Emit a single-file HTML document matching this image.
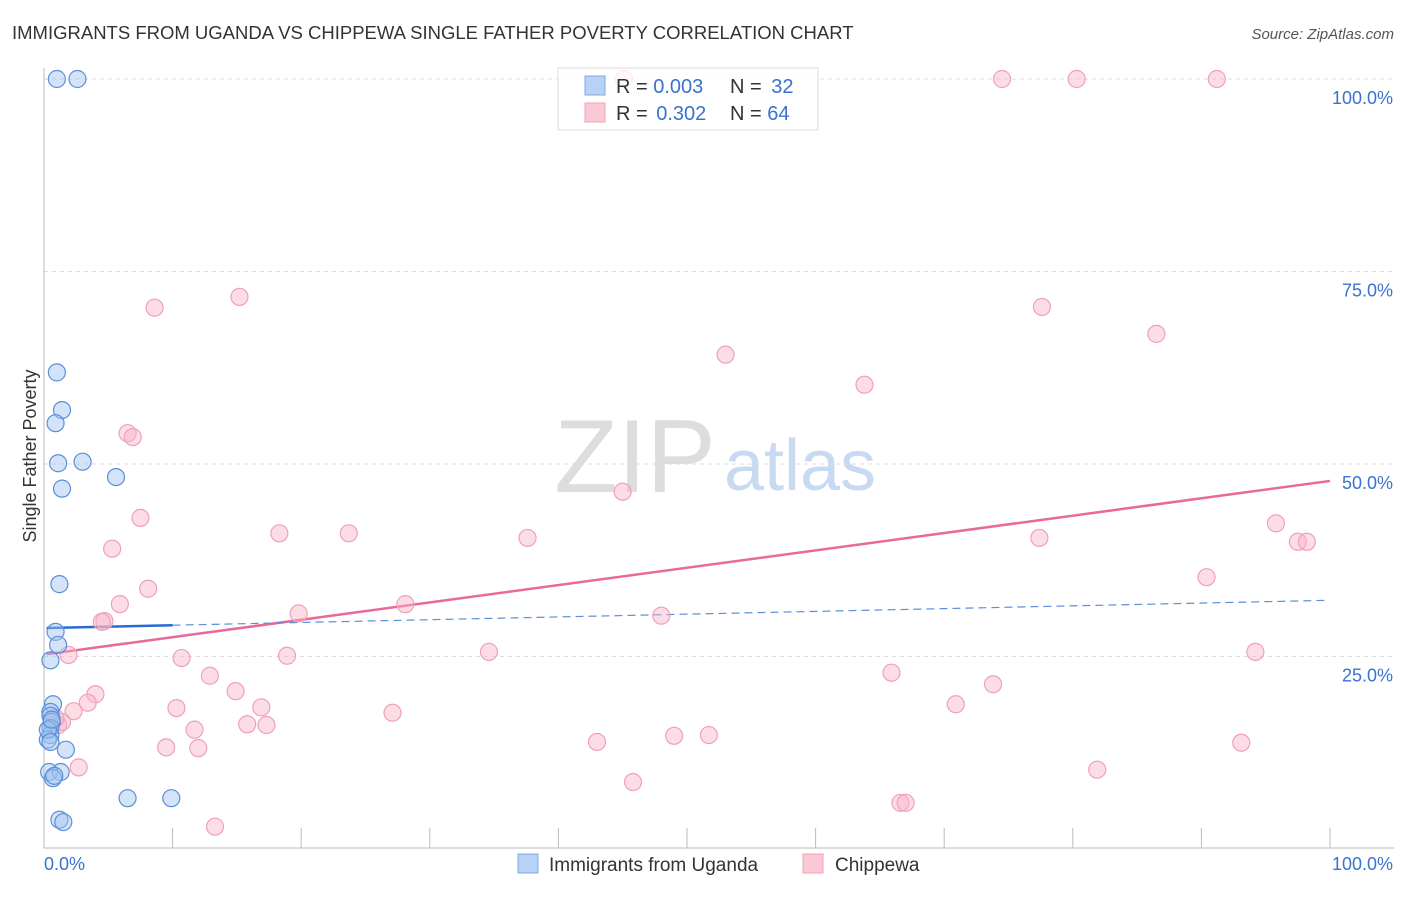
<!DOCTYPE html>
<html><head><meta charset="utf-8"><style>
body{margin:0;background:#fff;font-family:"Liberation Sans",sans-serif;}
svg text{font-family:"Liberation Sans",sans-serif;}
</style></head><body>
<svg id="chart" width="1406" height="892" xmlns="http://www.w3.org/2000/svg">
<text x="12" y="39" font-size="18.5" fill="#333">IMMIGRANTS FROM UGANDA VS CHIPPEWA SINGLE FATHER POVERTY CORRELATION CHART</text>
<text x="1394" y="39" font-size="15" fill="#555" font-style="italic" text-anchor="end">Source: ZipAtlas.com</text>
<text x="36" y="456" font-size="18" fill="#333" text-anchor="middle" transform="rotate(-90 36 456)">Single Father Poverty</text>
<g><text x="635" y="492" font-size="104" fill="#ddd" font-family="Liberation Serif" text-anchor="middle">ZIP</text><text x="800" y="490" font-size="72" fill="#c8daf2" text-anchor="middle">atlas</text></g>
<g id="grid"></g><g id="axes"></g><g id="trend"></g><g id="pts"></g>
<g>
<rect x="558" y="68" width="260" height="62" fill="rgba(255,255,255,0.8)" stroke="#ddd"/>
<rect x="585" y="76" width="20" height="19" fill="#b8d2f5" stroke="#7fa8e0"/>
<rect x="585" y="103" width="20" height="19" fill="#fbc8d6" stroke="#f0a0b8"/>
<text x="616" y="93" font-size="20" fill="#333">R = <tspan fill="#3a72d0">0.003</tspan></text>
<text x="730" y="93" font-size="20" fill="#333">N = <tspan fill="#3a72d0" dx="4">32</tspan></text>
<text x="616" y="120" font-size="20" fill="#333">R = <tspan fill="#3a72d0" dx="3">0.302</tspan></text>
<text x="730" y="120" font-size="20" fill="#333">N = <tspan fill="#3a72d0">64</tspan></text>
</g>
<g>
<rect x="518" y="854" width="20" height="19" fill="#b8d2f5" stroke="#7fa8e0"/>
<text x="549" y="871" font-size="19" fill="#333">Immigrants from Uganda</text>
<rect x="803" y="854" width="20" height="19" fill="#fbc8d6" stroke="#f0a0b8"/>
<text x="835" y="871" font-size="19" fill="#333">Chippewa</text>
</g>
</svg>
<script>
const blueX=[1.0,2.6,1.0,1.4,0.9,1.1,3.0,1.4,5.6,1.2,0.9,1.1,0.5,0.7,0.5,0.5,0.6,0.5,0.5,0.3,1.7,0.4,1.3,0.7,0.8,6.5,9.9,1.2,1.5,0.3,0.6,0.5];
const blueY=[100,100,61.9,57.0,55.3,50.1,50.3,46.8,48.3,34.4,28.2,26.5,24.5,18.8,17.8,17.3,16.5,15.7,14.8,14.2,12.9,10.0,10.0,9.2,9.5,6.6,6.6,3.8,3.5,15.5,16.8,13.9];
const pinkX=[45.1,74.5,80.3,91.2,8.6,15.2,77.6,86.5,53.0,63.8,6.5,6.9,45.0,7.5,5.3,18.3,23.7,37.6,77.4,95.8,97.5,98.2,8.1,5.9,90.4,28.1,19.8,4.7,4.5,48.0,1.9,10.7,18.9,34.6,94.2,12.9,65.9,14.9,73.8,4.0,3.4,10.3,2.3,16.9,70.9,27.1,15.8,17.3,11.7,1.1,1.4,9.5,12.0,43.0,49.0,51.7,93.1,2.7,81.9,45.8,66.6,67.0,13.3,0.9];
const pinkY=[100,100,100,100,70.3,71.7,70.4,66.9,64.2,60.3,54.0,53.5,46.4,43.0,39.0,41.0,41.0,40.4,40.4,42.3,39.9,39.9,33.8,31.8,35.3,31.8,30.6,29.6,29.5,30.3,25.2,24.8,25.1,25.6,25.6,22.5,22.9,20.5,21.4,20.1,19.0,18.3,17.9,18.4,18.8,17.7,16.2,16.1,15.5,16.1,16.5,13.2,13.1,13.9,14.7,14.8,13.8,10.6,10.3,8.7,6.0,6.0,2.9,17.0];
const blueTrend=[28.7,32.3];
const pinkTrend=[25.3,47.8];
const yTicks=[25,50,75,100];
const xTickLabels=["0.0%","100.0%"];
const NS="http://www.w3.org/2000/svg";
const X0=44,X1=1330,Y0=849,Y100=79;
const sx=v=>X0+(X1-X0)*v/100, sy=v=>Y0-(Y0-Y100)*v/100;
function mk(t,a,p){const e=document.createElementNS(NS,t);for(const k in a)e.setAttribute(k,a[k]);p.appendChild(e);return e;}
const grid=document.getElementById('grid'),axes=document.getElementById('axes');
yTicks.forEach(v=>{
 const l=mk('line',{x1:X0,x2:1392,y1:sy(v),y2:sy(v),stroke:'#ddd','stroke-dasharray':'4,4'},grid);
 
 
 const t=mk('text',{x:1393,y:sy(v)+25,'font-size':18,fill:'#3a72d0','text-anchor':'end'},axes);
 t.textContent=v.toFixed(1)+'%';
 
 
});
const ax=mk('path',{d:`M${X0} 68V848H1394`,stroke:'#bbb',fill:'none'},axes);


for(let i=1;i<=10;i++){
 const tk=mk('line',{x1:sx(i*10),x2:sx(i*10),y1:828,y2:848,stroke:'#bbb'},axes);
 
 
}
const xl0=mk('text',{x:44,y:870,'font-size':18,fill:'#3a72d0'},axes);xl0.textContent=xTickLabels[0];


const xl1=mk('text',{x:1393,y:870,'font-size':18,fill:'#3a72d0','text-anchor':'end'},axes);xl1.textContent=xTickLabels[1];


const tr=document.getElementById('trend');
const byAt=v=>blueTrend[0]+(blueTrend[1]-blueTrend[0])*v/100;
const pl=mk('line',{x1:sx(0.2),y1:sy(pinkTrend[0]),x2:sx(100),y2:sy(pinkTrend[1]),stroke:'#e8699a','stroke-width':2.5},tr);


const bd=mk('line',{x1:sx(10),y1:sy(byAt(10)),x2:sx(99.6),y2:sy(byAt(99.6)),stroke:'#5b8fd8','stroke-width':1.2,'stroke-dasharray':'8,5'},tr);


const bl=mk('line',{x1:sx(0.2),y1:sy(byAt(0.2)),x2:sx(10),y2:sy(byAt(10)),stroke:'#2a6ad0','stroke-width':2.5},tr);


const pts=document.getElementById('pts');
pinkX.forEach((v,i)=>{
 const c=mk('circle',{cx:sx(v),cy:sy(pinkY[i]),r:8.5,fill:'rgba(248,180,200,0.45)',stroke:'#f0a0b8','stroke-width':1.2},pts);
 
 
});
blueX.forEach((v,i)=>{
 const c=mk('circle',{cx:sx(v),cy:sy(blueY[i]),r:8.5,fill:'rgba(160,195,240,0.45)',stroke:'#5b8fd8','stroke-width':1.2},pts);
 
 
});
</script>
</body></html>
